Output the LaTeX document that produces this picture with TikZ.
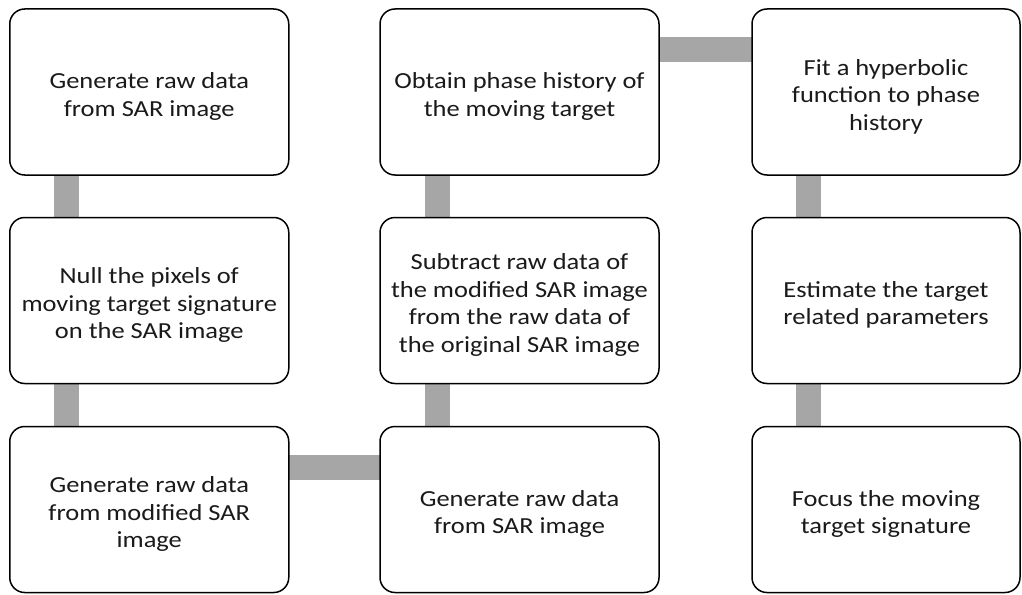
\documentclass[tikz,border=0pt]{standalone}
\usepackage{fontspec}
\setmainfont[FakeStretch=1.15]{Carlito}
\usetikzlibrary{backgrounds}
\definecolor{linkgray}{HTML}{A6A6A6}
\definecolor{txt}{HTML}{1A1A1A}
% taller first line lowers the text block slightly inside each box
\newcommand\topstrut{\rule{0pt}{25pt}}
\tikzset{
  stepbox/.style={draw=black, fill=white, line width=1.5pt, rounded corners=15pt,
    minimum width=279pt, minimum height=166pt, inner sep=0pt, outer sep=0pt,
    align=center, text=txt, font=\fontsize{23}{27.5}\selectfont},
  link/.style={draw=linkgray, line width=25pt}
}
\begin{document}
\begin{tikzpicture}[x=1pt, y=-1pt]
\useasboundingbox (0,0) rectangle (1022,594);
% first column
\node[stepbox] (a1) at (149.25,92) {\topstrut Generate raw data\\from SAR image};
\node[stepbox] (a2) at (149.25,300.5) {\topstrut Null the pixels of\\moving target signature\\on the SAR image};
\node[stepbox] (a3) at (149.25,509.5) {\topstrut Generate raw data\\from modified SAR\\image};
% second column
\node[stepbox] (b1) at (519.5,92) {\topstrut Obtain phase history of\\the moving target};
\node[stepbox] (b2) at (519.5,300.5) {\topstrut Subtract raw data of\\the modified SAR image\\from the raw data of\\the original SAR image};
\node[stepbox] (b3) at (519.5,509.5) {\topstrut Generate raw data\\from SAR image};
% third column (narrower)
\node[stepbox, minimum width=268pt] (c1) at (886,92) {\topstrut Fit a hyperbolic\\function to phase\\history};
\node[stepbox, minimum width=268pt] (c2) at (886,300.5) {\topstrut Estimate the target\\related parameters};
\node[stepbox, minimum width=268pt] (c3) at (886,509.5) {\topstrut Focus the moving\\target signature};
% connecting bars
\begin{scope}[on background layer]
\draw[link] ([xshift=57pt]a1.south west) -- ([xshift=57pt]a2.north west);
\draw[link] ([xshift=57pt]a2.south west) -- ([xshift=57pt]a3.north west);
\draw[link] ([yshift=-41pt]a3.north east) -- ([yshift=-41pt]b3.north west);
\draw[link] ([xshift=57pt]b3.north west) -- ([xshift=57pt]b2.south west);
\draw[link] ([xshift=57pt]b2.north west) -- ([xshift=57pt]b1.south west);
\draw[link] ([yshift=-41pt]b1.north east) -- ([yshift=-41pt]c1.north west);
\draw[link] ([xshift=56pt]c1.south west) -- ([xshift=56pt]c2.north west);
\draw[link] ([xshift=56pt]c2.south west) -- ([xshift=56pt]c3.north west);
\end{scope}
\end{tikzpicture}
\end{document}
